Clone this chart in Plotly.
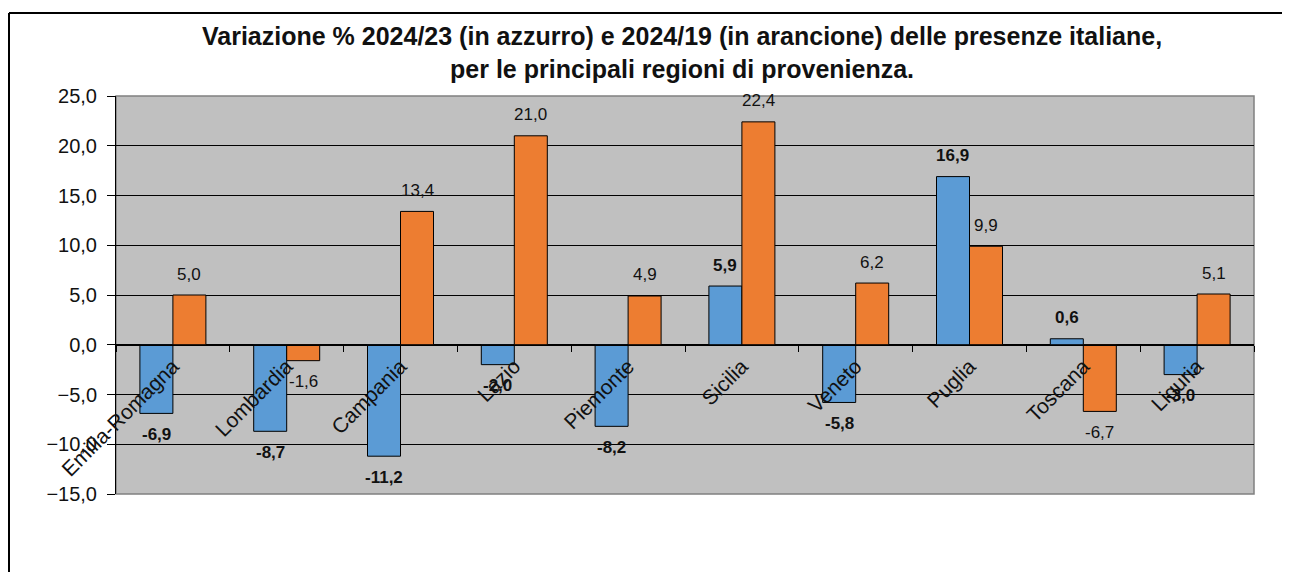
import plotly.graph_objects as go

regions = ["Emilia-Romagna", "Lombardia", "Campania", "Lazio", "Piemonte",
           "Sicilia", "Veneto", "Puglia", "Toscana", "Liguria"]
var_24_23 = [-6.9, -8.7, -11.2, -2.0, -8.2, 5.9, -5.8, 16.9, 0.6, -3.0]
var_24_19 = [5.0, -1.6, 13.4, 21.0, 4.9, 22.4, 6.2, 9.9, -6.7, 5.1]
y_ticks = [-15, -10, -5, 0, 5, 10, 15, 20, 25]
title_text = ("Variazione % 2024/23 (in azzurro) e 2024/19 (in arancione) delle presenze italiane,"
              "<br>per le principali regioni di provenienza.")

BLUE = "#5B9BD5"
ORANGE = "#ED7D31"
TXT = "#111111"
FONT = "Liberation Sans, Arial, sans-serif"

# page offset of the plot inside the browser (body margin)
OFF = 7
L, R, T, B = 115 - OFF, 1290 - 1253 + OFF, 95 - OFF, 572 - 493 + OFF
PW, PH = 1290 - L - R, 572 - T - B
BARGAP = 0.42
BAR_OFFSET = PW / len(regions) * (1 - BARGAP) / 4  # half bar width
LABEL_GAP = 21


def fmt(v):
    return f"{v:.1f}".replace(".", ",")


def px_x(p):
    return (p - OFF - L) / PW


def px_y(p):
    return (572 - B - (p - OFF)) / PH


fig = go.Figure()
fig.add_trace(go.Bar(
    x=regions, y=var_24_23, name="2024/23",
    marker=dict(color=BLUE, line=dict(color="black", width=1)),
))
fig.add_trace(go.Bar(
    x=regions, y=var_24_19, name="2024/19",
    marker=dict(color=ORANGE, line=dict(color="black", width=1)),
))

annotations = [
    dict(text=title_text, xref="paper", yref="paper",
         x=px_x(681), y=px_y(52), xanchor="center", yanchor="middle",
         showarrow=False, align="center",
         font=dict(family=FONT, size=25, color=TXT, weight="bold")),
]
for series, shift, weight in ((var_24_23, -BAR_OFFSET, "bold"),
                              (var_24_19, BAR_OFFSET, "normal")):
    for reg, v in zip(regions, series):
        annotations.append(dict(
            x=reg, y=v, xref="x", yref="y", text=fmt(v), showarrow=False,
            xanchor="center", yanchor="middle",
            xshift=shift, yshift=LABEL_GAP if v >= 0 else -LABEL_GAP,
            font=dict(family=FONT, size=17, color=TXT, weight=weight),
        ))

fig.update_layout(
    width=1290, height=572,
    margin=dict(l=L, r=R, t=T, b=B, autoexpand=False),
    paper_bgcolor="white", plot_bgcolor="#C0C0C0",
    barmode="group", bargap=BARGAP, bargroupgap=0,
    showlegend=False,
    separators=",.",
    font=dict(family=FONT, color=TXT),
    xaxis=dict(
        type="category", anchor="free", position=15 / 40,
        showline=True, linecolor="black", linewidth=1,
        ticks="outside", tickson="boundaries", ticklen=6, tickcolor="black",
        tickangle=-45, tickfont=dict(family=FONT, size=21, color=TXT),
        showgrid=False, layer="above traces",
    ),
    yaxis=dict(
        range=[-15, 25], tickvals=y_ticks, tickformat=".1f",
        showline=True, linecolor="black", linewidth=1,
        ticks="outside", ticklen=8, tickcolor="black",
        tickfont=dict(family=FONT, size=20, color=TXT),
        showgrid=True, gridcolor="black", gridwidth=1,
        zeroline=True, zerolinecolor="black", zerolinewidth=1,
        ticklabelstandoff=6,
    ),
    annotations=annotations,
    shapes=[
        dict(type="rect", xref="paper", yref="paper", x0=0, x1=1, y0=0, y1=1,
             line=dict(color="#808080", width=1.5), layer="below"),
        dict(type="line", xref="paper", yref="paper",
             x0=px_x(8), x1=px_x(8), y0=px_y(12), y1=px_y(600),
             line=dict(color="black", width=2)),
        dict(type="line", xref="paper", yref="paper",
             x0=px_x(8), x1=px_x(1320), y0=px_y(12), y1=px_y(12),
             line=dict(color="black", width=2)),
    ],
)

fig.write_html("out.html")
